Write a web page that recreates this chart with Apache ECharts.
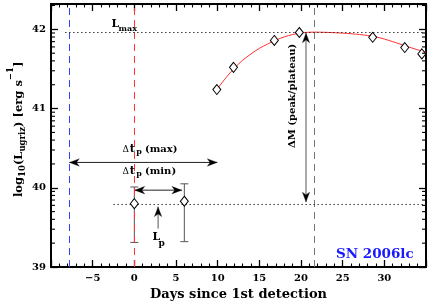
<!DOCTYPE html>
<html><head><meta charset="utf-8">
<script src="https://cdn.jsdelivr.net/npm/echarts@6/dist/echarts.min.js"></script>
<style>html,body{margin:0;padding:0;background:#fff;}#c{width:436px;height:302px;}</style>
</head><body><div id="c"></div>
<script>
// ---------------- data ----------------
const FONT = 'DejaVu Serif';
const xMin = -10, xMax = 35, yMin = 39, yMax = 42.32;
const xTickLabels = [-5, 0, 5, 10, 15, 20, 25, 30];
const yTickLabels = [39, 40, 41, 42];
const yDecades = [39, 40, 41, 42];
const yMinorFactors = [2, 3, 4, 5, 6, 7, 8, 9];

// early detections (with error bars)
const detX = [0, 6];
const detY = [39.80, 39.83];
const detLow = [39.31, 39.32];
const detHigh = [40.01, 40.05];

// later photometry
const obsX = [9.9, 11.9, 16.8, 19.8, 28.6, 32.45, 34.5];
const obsY = [41.24, 41.52, 41.86, 41.96, 41.90, 41.77, 41.69];

// fitted curve
const fitX = [9.9, 11, 12, 13, 14, 15, 16, 17, 18, 19, 20, 21.5, 23, 25, 27, 29, 31, 33, 35];
const fitY = [41.24, 41.39, 41.51, 41.61, 41.69, 41.76, 41.815, 41.865, 41.905, 41.935, 41.955, 41.965, 41.962, 41.952, 41.935, 41.905, 41.845, 41.775, 41.71];

// reference lines
const vLineX = [-7.8, 0, 21.6];
const lmaxLevel = 41.965, lmaxFrom = -8.3;
const lpLevel = 39.795, lpFrom = -2.5;

// annotation arrows: from (x1,y1) to (x2,y2); doubleHead 1/0
const arrowX1 = [-7.8, 0.05, 2.85, 20.6];
const arrowY1 = [40.32, 39.97, 39.485, 41.955];
const arrowX2 = [9.95, 5.7, 2.85, 20.6];
const arrowY2 = [40.32, 39.97, 39.76, 39.82];
const arrowDouble = [1, 1, 0, 1];

// ---------------- helpers ----------------
const arrowColors = ['#222', '#222', '#555', '#555'];
const yMinorTicks = [];
yDecades.forEach(d => yMinorFactors.forEach(k => { const v = d + Math.log10(k); if (v < yMax) yMinorTicks.push(v); }));

const cv = document.createElement('canvas').getContext('2d');
function F(s, b) { return (b === false ? 'normal ' : 'bold ') + s + 'px "' + FONT + '"'; }
function midOff(f) {
  cv.font = f; cv.textBaseline = 'alphabetic';
  const a = cv.measureText('H').actualBoundingBoxAscent;
  cv.textBaseline = 'middle';
  const m = cv.measureText('H').actualBoundingBoxAscent;
  cv.textBaseline = 'alphabetic';
  return a - m;
}
function wid(t, f) { cv.font = f; return cv.measureText(t).width; }
function run(x0, base, parts, fill) {
  let x = x0; const out = [];
  parts.forEach(p => {
    const f = F(p.s, p.b);
    if (p.x !== undefined) x = p.x;
    x += (p.dx || 0);
    out.push({
      type: 'text', z: 50,
      style: { text: p.t, x: x, y: base + (p.dy || 0) - midOff(f), font: f, fill: fill || '#000',
        align: 'left', textAlign: 'left', verticalAlign: 'middle', textVerticalAlign: 'middle' }
    });
    x += wid(p.t, f);
  });
  return out;
}

function xAxisCfg(pos, showLabel) {
  return {
    type: 'value', position: pos, min: xMin, max: xMax, interval: 5,
    axisLine: { show: true, onZero: false, lineStyle: { color: '#000', width: 2 } },
    axisTick: { show: true, inside: true, length: 7, lineStyle: { color: '#000', width: 1.3 } },
    minorTick: { show: true, splitNumber: 5, length: 3.5, lineStyle: { color: '#000', width: 1.1 } },
    splitLine: { show: false }, minorSplitLine: { show: false },
    axisLabel: {
      show: showLabel, margin: 6, color: '#000', fontFamily: FONT, fontWeight: 'bold', fontSize: 10,
      formatter: v => xTickLabels.indexOf(v) >= 0 ? String(v).replace('-', '\u2212') : ''
    },
    name: showLabel ? 'Days since 1st detection' : '', nameLocation: 'middle', nameGap: 17,
    nameTextStyle: { color: '#000', fontFamily: FONT, fontWeight: 'bold', fontSize: 13 }
  };
}
function yAxisCfg(pos, showLabel) {
  return {
    type: 'value', position: pos, min: yMin, max: yMax, interval: 1,
    axisLine: { show: true, onZero: false, lineStyle: { color: '#000', width: 2 } },
    axisTick: { show: true, inside: true, length: 7, lineStyle: { color: '#000', width: 1.3 } },
    splitLine: { show: false },
    axisLabel: {
      show: showLabel, margin: 5, color: '#000', fontFamily: FONT, fontWeight: 'bold', fontSize: 10,
      formatter: v => yTickLabels.indexOf(Math.round(v * 1000) / 1000) >= 0 ? String(v) : ''
    }
  };
}

function arrowHead(tip, from, col) {
  const dx = tip[0] - from[0], dy = tip[1] - from[1];
  const len = Math.sqrt(dx * dx + dy * dy) || 1;
  const ux = dx / len, uy = dy / len, nx = -uy, ny = ux;
  const L = 10, W = 3.8, N = 7.2;
  return {
    type: 'polygon',
    shape: { points: [
      [tip[0], tip[1]],
      [tip[0] - ux * L + nx * W, tip[1] - uy * L + ny * W],
      [tip[0] - ux * N, tip[1] - uy * N],
      [tip[0] - ux * L - nx * W, tip[1] - uy * L - ny * W]
    ] },
    style: { fill: '#000', stroke: col, lineWidth: 0.3 }
  };
}

// ---------------- chart ----------------
const chart = echarts.init(document.getElementById('c'), null, { renderer: 'canvas' });

const graphics = [];
// L_max
graphics.push(...run(0, 27, [{ t: 'L', s: 11, x: 111.5 }]));
graphics.push(...run(0, 31, [{ t: 'max', s: 8, x: 118.5 }]));
// Δ t_p (max)
graphics.push(...run(0, 151.8, [{ t: '\u0394', s: 9, b: false, x: 122.5 }, { t: 't', s: 11, x: 129.8 }, { t: '(max)', s: 10, x: 145 }]));
graphics.push(...run(0, 154, [{ t: 'p', s: 8, x: 136.2 }]));
// Δ t_p (min)
graphics.push(...run(0, 173.8, [{ t: '\u0394', s: 9, b: false, x: 122.5 }, { t: 't', s: 11, x: 129.8 }, { t: '(min)', s: 10, x: 145 }]));
graphics.push(...run(0, 176, [{ t: 'p', s: 8, x: 136.2 }]));
// L_p
graphics.push(...run(0, 240, [{ t: 'L', s: 11, x: 152.5 }]));
graphics.push(...run(0, 246.2, [{ t: 'p', s: 9, x: 158.5 }]));
// SN name
graphics.push(...run(0, 258.3, [{ t: 'SN 2006lc', s: 13.5, x: 336 }], '#1a1aff'));
// ΔM (peak/plateau) rotated
graphics.push({
  type: 'group', x: 0, y: 148, rotation: Math.PI / 2, z: 50,
  children: run(0, 294.5, [{ t: '\u0394M (peak/plateau)', s: 10 }])
});
// y-axis title rotated
graphics.push({
  type: 'group', x: 0, y: 197, rotation: Math.PI / 2, z: 50,
  children: run(0, 21.5, [
    { t: 'log', s: 11.5 },
    { t: '10', s: 8.5, dy: 3.5 },
    { t: '(L', s: 11.5 },
    { t: 'ugriz', s: 8.5, dy: 3.5 },
    { t: ') [erg s', s: 11.5 },
    { t: '\u22121', s: 8.5, dy: -9 },
    { t: ']', s: 11.5 }
  ])
});

const option = {
  animation: false,
  backgroundColor: '#fff',
  grid: { left: 51, right: 10, top: 4, bottom: 35, containLabel: false, outerBoundsMode: 'none' },
  xAxis: [xAxisCfg('bottom', true), xAxisCfg('top', false)],
  yAxis: [yAxisCfg('left', true), yAxisCfg('right', false)],
  graphic: graphics,
  series: [
    { // vertical dashed reference lines
      type: 'line', data: [], z: 1, silent: true,
      markLine: {
        silent: true, symbol: 'none', animation: false, label: { show: false },
        data: [
          { xAxis: vLineX[0], lineStyle: { color: '#3344ff', type: [7, 5], width: 1 } },
          { xAxis: vLineX[1], lineStyle: { color: '#ff3535', type: [7, 5], width: 1 } },
          { xAxis: vLineX[2], lineStyle: { color: '#777', type: [7, 5], width: 1 } }
        ]
      }
    },
    { // dotted level lines
      type: 'line', data: [], z: 1, silent: true,
      markLine: {
        silent: true, symbol: 'none', animation: false, label: { show: false },
        lineStyle: { color: '#222', type: [1.3, 2.7], width: 1.2 },
        data: [
          [{ coord: [lmaxFrom, lmaxLevel] }, { coord: [xMax, lmaxLevel] }],
          [{ coord: [lpFrom, lpLevel] }, { coord: [xMax, lpLevel] }]
        ]
      }
    },
    { // fitted curve
      type: 'line', z: 2, smooth: 0.3, showSymbol: false, symbol: 'none',
      lineStyle: { color: '#ff3030', width: 1 },
      data: fitX.map((x, i) => [x, fitY[i]])
    },
    { // annotation arrows
      type: 'custom', z: 4, clip: false, silent: true,
      data: arrowX1.map((x, i) => [x, arrowY1[i], arrowX2[i], arrowY2[i], arrowDouble[i]]),
      encode: { x: [0, 2], y: [1, 3] },
      renderItem: (p, api) => {
        const a = api.coord([api.value(0), api.value(1)]);
        const b = api.coord([api.value(2), api.value(3)]);
        const dbl = api.value(4) === 1;
        const col = arrowColors[p.dataIndex];
        const ch = [{ type: 'line', shape: { x1: a[0], y1: a[1], x2: b[0], y2: b[1] }, style: { stroke: col, lineWidth: 1 } }];
        ch.push(arrowHead(b, a, col));
        if (dbl) ch.push(arrowHead(a, b, col));
        return { type: 'group', children: ch };
      }
    },
    { // error bars
      type: 'custom', z: 3, clip: false,
      data: detX.map((x, i) => [x, detLow[i], detHigh[i]]),
      encode: { x: 0, y: [1, 2] },
      renderItem: (p, api) => {
        const lo = api.coord([api.value(0), api.value(1)]);
        const hi = api.coord([api.value(0), api.value(2)]);
        const st = { stroke: '#555', lineWidth: 1 };
        return { type: 'group', children: [
          { type: 'line', shape: { x1: lo[0], y1: lo[1], x2: hi[0], y2: hi[1] }, style: st },
          { type: 'line', shape: { x1: lo[0] - 4, y1: lo[1], x2: lo[0] + 4, y2: lo[1] }, style: st },
          { type: 'line', shape: { x1: hi[0] - 4, y1: hi[1], x2: hi[0] + 4, y2: hi[1] }, style: st }
        ] };
      }
    },
    { // log minor ticks on both y axes
      type: 'custom', z: 6, clip: false, silent: true,
      data: yMinorTicks.map(v => [xMin, v]),
      encode: { x: 0, y: 1 },
      renderItem: (p, api) => {
        const v = api.value(1);
        const a = api.coord([xMin, v]), b = api.coord([xMax, v]);
        const st = { stroke: '#000', lineWidth: 1.1 };
        return { type: 'group', children: [
          { type: 'line', shape: { x1: a[0], y1: a[1], x2: a[0] + 4, y2: a[1] }, style: st },
          { type: 'line', shape: { x1: b[0], y1: b[1], x2: b[0] - 4, y2: b[1] }, style: st }
        ] };
      }
    },
    { // diamonds
      type: 'scatter', z: 5, symbol: 'diamond', symbolSize: [8, 10],
      itemStyle: { color: '#fff', borderColor: '#000', borderWidth: 1, opacity: 1 },
      data: detX.map((x, i) => [x, detY[i]]).concat(obsX.map((x, i) => [x, obsY[i]]))
    }
  ]
};
chart.setOption(option);
</script>
</body></html>
